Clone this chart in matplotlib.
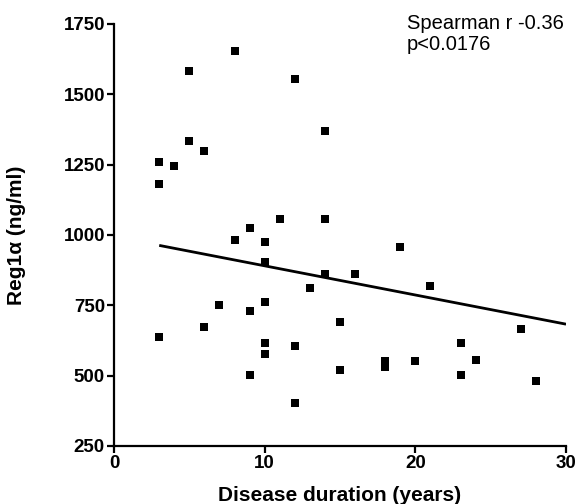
import numpy as np
import matplotlib
matplotlib.use("Agg")
import matplotlib.pyplot as plt

plt.rcParams['font.family'] = ['Liberation Sans', 'DejaVu Sans']

# Disease duration (years) and serum Reg1alpha (ng/ml) per patient
duration = [3, 3, 3, 4, 5, 5, 6, 6, 7, 8, 8, 9, 9, 9,
            10, 10, 10, 10, 10, 11, 12, 12, 12, 13, 14, 14, 14,
            15, 15, 16, 18, 18, 19, 20, 21, 23, 23, 24, 27, 28]
reg1a = [1260, 1181, 637, 1245, 1583, 1334, 1300, 674, 752, 1654, 982, 1026, 731, 503,
         976, 904, 761, 615, 576, 1056, 1554, 605, 403, 811, 1370, 1056, 861,
         691, 521, 861, 551, 532, 956, 552, 819, 615, 501, 556, 665, 481]

# Regression line endpoints (years)
fit_range = [3, 30]
fit_values = [963, 683]

x_ticks = [0, 10, 20, 30]
y_ticks = [250, 500, 750, 1000, 1250, 1500, 1750]
stats_text = "Spearman r -0.36\np<0.0176"

fig = plt.figure(figsize=(5.77, 5.04), dpi=100)
ax = fig.add_axes([0.1976, 0.1151, 0.7834, 0.8373])

ax.plot(duration, reg1a, linestyle='none', marker='s', markersize=5.8,
        color='black', markeredgewidth=0)
ax.plot(fit_range, fit_values, color='black', linewidth=2.0, solid_capstyle='butt')

ax.set_xlim(0, 30)
ax.set_ylim(250, 1750)
ax.set_xticks(x_ticks)
ax.set_yticks(y_ticks)
ax.set_xticklabels([str(t) for t in x_ticks], fontsize=13.5, fontweight='bold')
ax.set_yticklabels([str(t) for t in y_ticks], fontsize=13.5, fontweight='bold')

for side in ('top', 'right'):
    ax.spines[side].set_visible(False)
for side in ('left', 'bottom'):
    ax.spines[side].set_linewidth(1.6)
ax.tick_params(direction='out', length=5, width=1.6, pad=1.5)

ax.set_xlabel("Disease duration (years)", fontsize=15, fontweight='bold')
ax.xaxis.set_label_coords(0.5, -0.095)
ax.set_ylabel("Reg1α (ng/ml)", fontsize=15, fontweight='bold')
ax.yaxis.set_label_coords(-0.195, 0.5)

fig.text(407 / 577, 1 - 14 / 504, stats_text, fontsize=14.5, va='top', ha='left',
         linespacing=1.15)

fig.savefig("out.png", dpi=100)
